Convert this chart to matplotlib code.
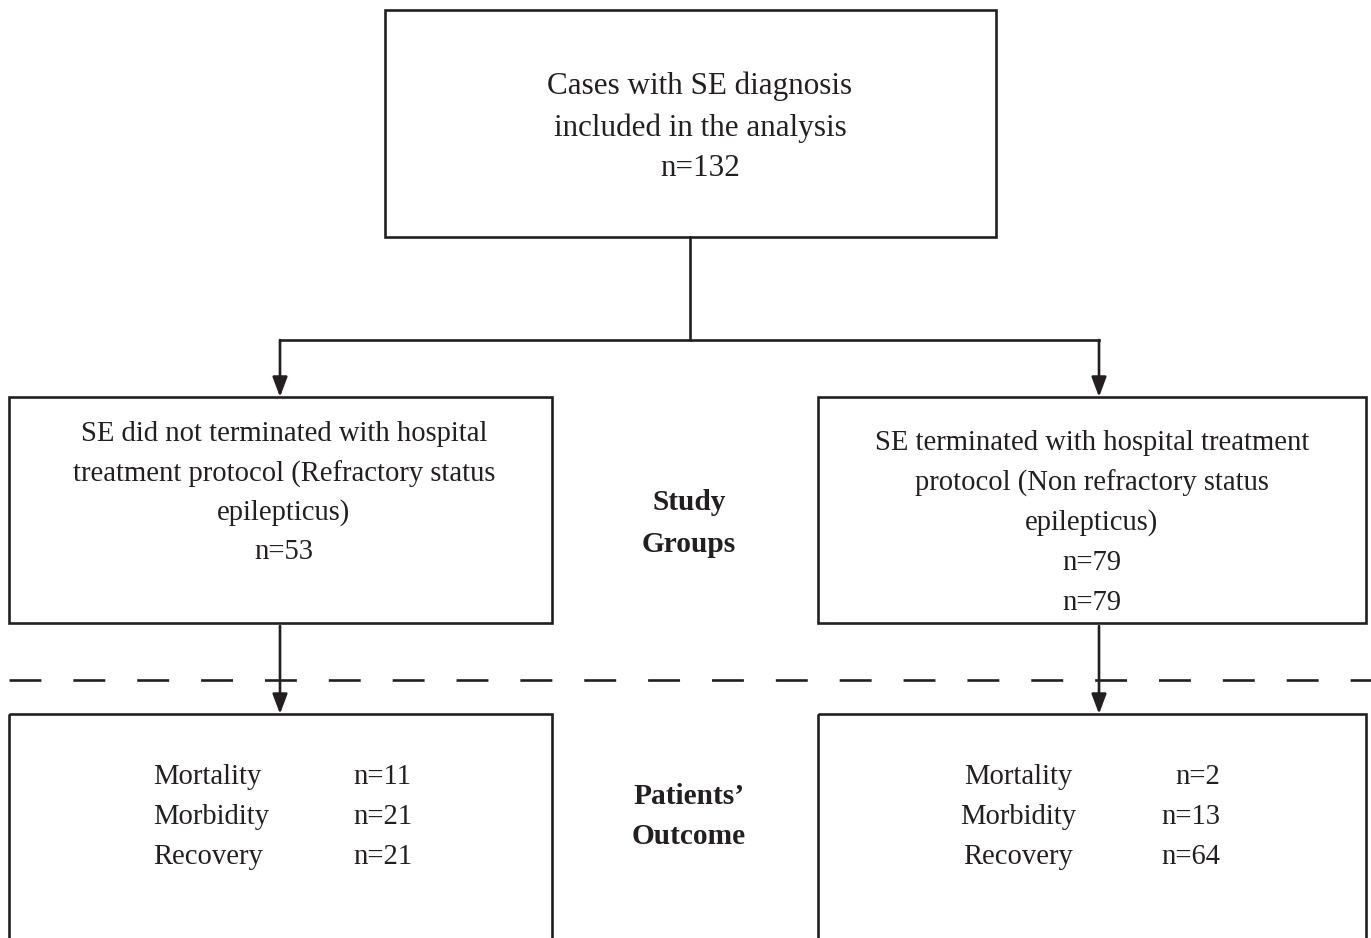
import matplotlib
matplotlib.use("Agg")
import matplotlib.pyplot as plt
from matplotlib.patches import Rectangle

# texts of the flowchart
top_text = ["Cases with SE diagnosis", "included in the analysis", "n=132"]
left_text = ["SE did not terminated with hospital", "treatment protocol (Refractory status",
             "epilepticus)", "n=53"]
right_text = ["SE terminated with hospital treatment", "protocol (Non refractory status",
              "epilepticus)", "n=79", "n=79"]
mid_label = ["Study", "Groups"]
out_label = ["Patients\u2019", "Outcome"]
outcomes = ["Mortality", "Morbidity", "Recovery"]
left_n = ["n=11", "n=21", "n=21"]
right_n = ["n=2", "n=13", "n=64"]

W, H = 1371, 938
fig = plt.figure(figsize=(W / 100, H / 100), dpi=100)
ax = fig.add_axes([0, 0, 1, 1])
ax.set_xlim(0, W)
ax.set_ylim(H, 0)
ax.axis("off")

plt.rcParams["font.family"] = ["Liberation Serif", "DejaVu Serif"]
FS = 20.6
LW = 1.9
C = "#231f20"


def box(x0, y0, x1, y1):
    ax.add_patch(Rectangle((x0, y0), x1 - x0, y1 - y0, fill=False,
                           edgecolor=C, linewidth=LW))


def arrow(x, y0, y1):
    ax.annotate("", xy=(x, y1), xytext=(x, y0),
                arrowprops=dict(arrowstyle="-|>,head_length=1.2,head_width=0.45",
                                color=C, lw=LW, shrinkA=0, shrinkB=0))


def lines(xc, ys, texts, fs=FS, **kw):
    for y, t in zip(ys, texts):
        ax.text(xc, y, t, ha="center", va="center", fontsize=fs, color=C, **kw)


# boxes
box(385, 10, 996, 237)
box(9, 397, 552, 623)
box(818, 397, 1366, 623)
box(9, 714, 552, 960)
box(818, 714, 1366, 960)

# connectors
ax.plot([690, 690], [237, 340], color=C, lw=LW)
ax.plot([280, 1099], [340, 340], color=C, lw=LW)
arrow(280, 340, 397)
arrow(1099, 340, 397)
arrow(280, 626, 714)
arrow(1099, 626, 714)

# dashed separator
ax.plot([9, W], [680, 680], color=C, lw=LW, dashes=(12.1, 12.1))

lines(700, [86, 128, 169], top_text, fs=22.4)
lines(284, [434, 474, 513, 552], left_text)
lines(1092, [443, 483, 523, 563, 603], right_text)
lines(689, [503, 544], mid_label, fs=21.2, fontweight="bold")
lines(689, [797, 836], out_label, fs=21.2, fontweight="bold")

for i, (o, a, b) in enumerate(zip(outcomes, left_n, right_n)):
    y = 777 + 40 * i
    ax.text(153, y, o, ha="left", va="center", fontsize=FS, color=C)
    ax.text(353, y, a, ha="left", va="center", fontsize=FS, color=C)
    ax.text(1018, y, o, ha="center", va="center", fontsize=FS, color=C)
    ax.text(1220, y, b, ha="right", va="center", fontsize=FS, color=C)

fig.savefig("out.png", dpi=100)
